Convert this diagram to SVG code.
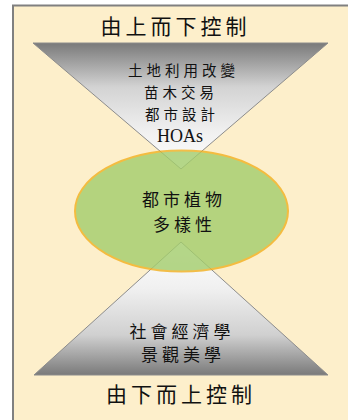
<svg xmlns="http://www.w3.org/2000/svg" width="348" height="420" viewBox="0 0 348 420">
<defs>
<linearGradient id="gTop" x1="0" y1="0" x2="0" y2="1">
<stop offset="0" stop-color="#7a7a7a"/>
<stop offset="0.35" stop-color="#d3d3d3"/>
<stop offset="0.7" stop-color="#f0f0f0"/>
<stop offset="1" stop-color="#ffffff"/>
</linearGradient>
<linearGradient id="gBot" x1="0" y1="0" x2="0" y2="1">
<stop offset="0" stop-color="#ffffff"/>
<stop offset="0.35" stop-color="#f0f0f0"/>
<stop offset="0.7" stop-color="#d0d0d0"/>
<stop offset="1" stop-color="#7a7a7a"/>
</linearGradient>
<style>
.cjk{font-family:"Noto Sans CJK TC","Noto Sans CJK SC",sans-serif;fill:#111111;text-anchor:middle}
.title{font-size:21px;letter-spacing:4px}
.small{font-size:14.5px;letter-spacing:4px}
.mid{font-size:17px;letter-spacing:4px}
.latin{font-family:"Liberation Serif",serif;font-size:18px;fill:#111111;text-anchor:middle}
.tri{stroke:#8c8c8c;stroke-width:1}
</style>
</defs>
<rect x="0" y="0" width="348" height="420" fill="#ffffff"/>
<rect x="13" y="5.5" width="340" height="420" fill="#fdefcb" stroke="#808080" stroke-width="2"/>
<g id="top-triangle">
<polygon class="tri" points="33,43 328,43 181,169" fill="url(#gTop)"/>
</g>
<g id="bottom-triangle">
<polygon class="tri" points="181,242 34,375 328,375" fill="url(#gBot)"/>
</g>
<g id="ellipse-node">
<ellipse cx="181.5" cy="211" rx="106.5" ry="60.5" fill="#a3cd6c" stroke="#f2b01e" stroke-width="2" opacity="0.8"/>
<text class="cjk mid" x="184" y="206">都市植物</text>
<text class="cjk mid" x="184.5" y="231">多樣性</text>
</g>
<g id="top-title">
<text class="cjk title" x="175.4" y="34.2">由上而下控制</text>
</g>
<g id="top-labels">
<text class="cjk small" x="183.5" y="76.3">土地利用改變</text>
<text class="cjk small" x="181" y="98.3">苗木交易</text>
<text class="cjk small" x="182" y="120.3">都市設計</text>
<text class="latin" x="180" y="141.5">HOAs</text>
</g>
<g id="bottom-labels">
<text class="cjk mid" x="182" y="338">社會經濟學</text>
<text class="cjk mid" x="183" y="361">景觀美學</text>
</g>
<g id="bottom-title">
<text class="cjk title" x="181" y="402.2">由下而上控制</text>
</g>
</svg>
